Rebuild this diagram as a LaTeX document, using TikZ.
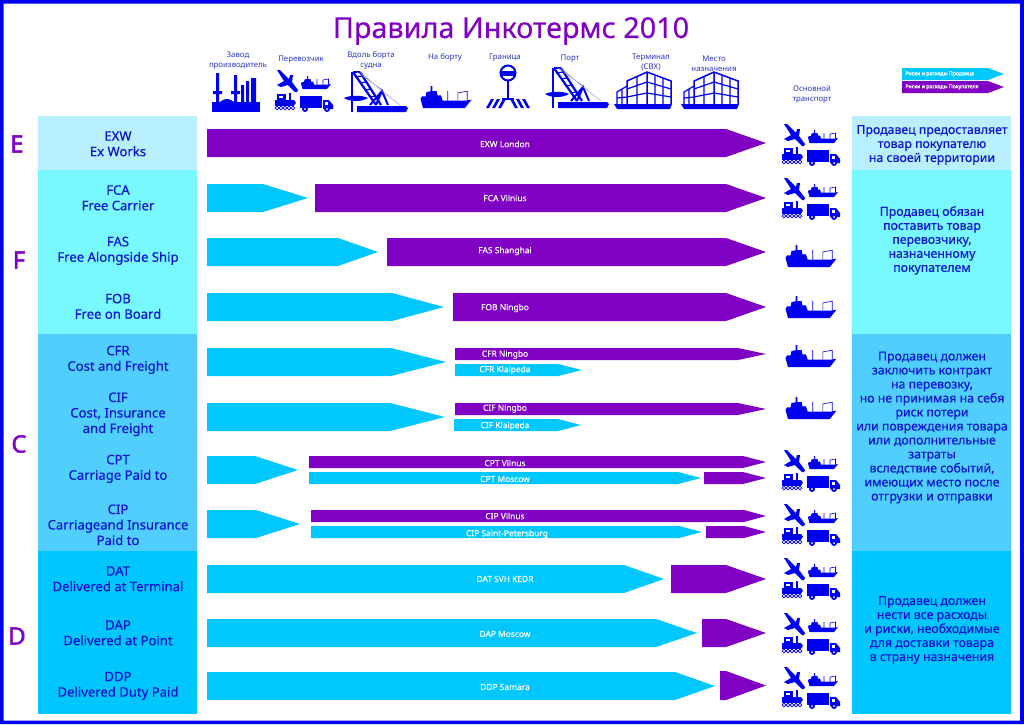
\documentclass[tikz,border=0pt]{standalone}
\usepackage{fontspec}
\setmainfont{Noto Sans}
\newfontfamily\semib[FakeBold=0.35]{Noto Sans}
\newfontfamily\strongf[FakeBold=1.6]{Noto Sans}
\definecolor{icoblue}{HTML}{0000F0}
\definecolor{txtblue}{HTML}{0A14CC}
\definecolor{hdrblue}{HTML}{2A35C0}
\definecolor{purp}{HTML}{8000C4}
\definecolor{cyanb}{HTML}{00C8FF}
\definecolor{bandE}{HTML}{B8F0FF}
\definecolor{bandF}{HTML}{78F8FF}
\definecolor{bandC}{HTML}{50CFFF}
\definecolor{bandD}{HTML}{00C6FF}
\newcommand{\sellerarrow}[6][cyanb]{\fill[#1] (#2,#5) -- (#4,#5) -- (#3,{(#5+#6)/2}) -- (#4,#6) -- (#2,#6) -- cycle;}
\newcommand{\buyerarrow}[5]{\sellerarrow[purp]{#1}{#2}{#3}{#4}{#5}}
\tikzset{
  x=0.5pt,y=-0.5pt,
  lefttext/.style={font=\fontsize{6.55}{7.75}\semib\selectfont,text=txtblue,align=center,inner sep=0pt},
  righttext/.style={font=\fontsize{6.15}{7}\semib\selectfont,text=txtblue,align=center,inner sep=0pt},
  hdr/.style={font=\fontsize{3.9}{5.2}\selectfont,text=hdrblue,align=center,inner sep=0pt},
  arrowlabel/.style={font=\fontsize{4.2}{5}\semib\selectfont,text=white,inner sep=0pt},
  legendlabel/.style={font=\fontsize{2.6}{3}\strongf\selectfont,text=white,inner sep=0pt,anchor=west},
  letter/.style={font=\fontsize{12}{14}\strongf\selectfont,text=purp,inner sep=0pt},
  planeicon/.pic={
    \fill[icoblue] (-26,-20) -- (-23,-20) -- (-14,-11) -- (-13,-15) -- (-10,-15) -- (-11,-8) -- (-5,0) -- (-6,2) -- (-8,2) -- (-15,-5) -- (-22,-3) -- (-26,-5) -- (-19,-9) -- cycle;},
  shipicon/.pic={
    \fill[icoblue] (-15,0.5) -- (-13.5,6) -- (11,6) -- (15,1) -- (12,1.5) -- (-2,1.5) -- (-3,-1.5) -- (-5,-1.5) -- (-5.5,-4) -- (-8,-4) -- (-8,-7) -- (-9,-7) -- (-9,-4) -- (-11.5,-3.5) -- (-12,-1) -- (-14,-1) -- cycle;
    \draw[icoblue,line width=.3pt] (1,2) -- (1,-4) (7,1.5) -- (7,-3) -- (12.5,-4) -- (12.5,1.5);},
  trainicon/.pic={
    \fill[icoblue] (-28,10) rectangle (-9,15.5);
    \fill[icoblue] (-9,10) -- (-7,12.8) -- (-9,15.5) -- cycle;
    \fill[icoblue] (-26,4) rectangle (-17,10);
    \fill[white] (-24,5.5) rectangle (-20,8);
    \fill[icoblue] (-14,3) rectangle (-12,10);
    \foreach \xx in {-26,-22,-18,-14,-10}{\draw[icoblue,line width=.4pt] (\xx,18) circle[radius=1.9];}},
  truckicon/.pic={
    \fill[icoblue] (-3,6) rectangle (19,18);
    \fill[icoblue] (20,10) -- (26,10) -- (30,15) -- (30,19) -- (20,19) -- cycle;
    \fill[white] (22,12) rectangle (25,15);
    \fill[icoblue] (2,19) circle[radius=3] (24,19) circle[radius=3];
    \fill[white] (2,19) circle[radius=1] (24,19) circle[radius=1];},
  transporticons/.pic={
    \pic at (0,0) {planeicon};
    \pic at (13,-7) {shipicon};
    \pic at (0,0) {trainicon};
    \pic at (0,0) {truckicon};},
  bigship/.pic={\pic[scale=1.7] at (0,0) {shipicon};},
  craneicon/.pic={
    \fill[icoblue] (5,35) -- (54,35) -- (56,37) -- (54,41) -- (5,41) -- cycle;
    \fill[icoblue] (-8,27) .. controls (-2,24) and (10,24) .. (16,27) .. controls (10,31) and (-2,31) .. (-8,27);
    \draw[icoblue,line width=1.1pt] (1,1) -- (24,34) (8,1) -- (29,34);
    \draw[icoblue,line width=.6pt] (3,6) -- (10,5) (8,12) -- (14,11) (13,19) -- (19,18) (18,26) -- (24,25);
    \draw[icoblue,line width=1pt] (0,1) -- (0,41) (1,1) -- (8,1);
    \draw[icoblue,line width=1pt] (24,34) -- (30,20) -- (36,34) (18,34) -- (30,20);
    \draw[hdrblue!55,line width=.2pt] (8,1) -- (30,20) (5,1) -- (29,18) (30,20) -- (48,34);
  },
  factoryicon/.pic={
    \fill[icoblue] (0,29) rectangle (48,39);
    \fill[icoblue] (4,0) rectangle (7,30) (22,2) rectangle (25,30);
    \fill[icoblue] (1,18) rectangle (10,21) (19,18) rectangle (28,21);
    \fill[icoblue] (29,12) rectangle (32,30) (34,8) rectangle (37,30) (39,5) rectangle (44,30);
    \fill[icoblue] (8,29) .. controls (14,24) and (18,26) .. (22,29) -- cycle;
  },
  bordericon/.pic={
    \draw[icoblue,line width=1pt] (22,8) circle[radius=7.5];
    \fill[icoblue] (15,5.5) rectangle (29,10.5);
    \draw[icoblue,line width=.7pt] (22,16) -- (22,34);
    \fill[icoblue] (16,33) rectangle (28,35);
    \foreach \xa in {0,6,12}{
      \fill[icoblue] (\xa+5,34) -- (\xa+8,34) -- (\xa+3,43) -- (\xa,43) -- cycle;
      \fill[icoblue] (39-\xa,34) -- (36-\xa,34) -- (41-\xa,43) -- (44-\xa,43) -- cycle;}
  },
  warehouseicon/.pic={
    \fill[icoblue] (0,32) -- (58,32) -- (56,37) -- (3,37) -- cycle;
    \draw[icoblue,line width=.75pt] (33,0) -- (57,9) -- (57,32) (33,0) -- (33,32) (33,0) -- (13,9) -- (13,32);
    \draw[icoblue,line width=.6pt] (13,17) -- (33,10) -- (57,17) (13,25) -- (33,21) -- (57,25) (23,5) -- (23,32) (41,3) -- (41,32) (49,6) -- (49,32);
    \draw[icoblue,line width=.6pt] (13,14) -- (3,20) -- (3,32) (3,26) -- (13,25) (8,17) -- (8,32);
  },
}
\begin{document}
\begin{tikzpicture}
\useasboundingbox (0,0) rectangle (1024,724);
\fill[white] (0,0) rectangle (1024,724);
\fill[icoblue,even odd rule] (0,0) rectangle (1024,724) (3.5,3.5) rectangle (1020,720.5);

\node[font=\fontsize{14.4}{16}\semib\selectfont,text=purp,inner sep=0pt] (title) at (511,31) {Правила Инкотермс 2010};

% left and right bands
\foreach \xl/\xr in {38/197,852/1011}{
  \fill[bandE] (\xl,116) rectangle (\xr,170);
  \fill[bandF] (\xl,170) rectangle (\xr,334);
  \fill[bandC] (\xl,334) rectangle (\xr,551);
  \fill[bandD] (\xl,551) rectangle (\xr,714);
}
\node[letter] (gE) at (17,144) {E};
\node[letter] (gF) at (19,260) {F};
\node[letter] (gC) at (19,444) {C};
\node[letter] (gD) at (17,636) {D};

\node[lefttext] (exw) at (118,143.8) {EXW\\Ex Works};
\node[lefttext] (fca) at (118,197.8) {FCA\\Free Carrier};
\node[lefttext] (fas) at (118,250.8) {FAS\\Free Alongside Ship};
\node[lefttext] (fob) at (118,306.3) {FOB\\Free on Board};
\node[lefttext] (cfr) at (118,359.8) {CFR\\Cost and Freight};
\node[lefttext] (cif) at (118,414.3) {CIF\\Cost, Insurance\\and Freight};
\node[lefttext] (cpt) at (118,468.8) {CPT\\Carriage Paid to};
\node[lefttext] (cip) at (118,524.8) {CIP\\Carriageand Insurance\\Paid to};
\node[lefttext] (dat) at (118,578.8) {DAT\\Delivered at Terminal};
\node[lefttext] (dap) at (118,632.8) {DAP\\Delivered at Point};
\node[lefttext] (ddp) at (118,685.8) {DDP\\Delivered Duty Paid};

\node[righttext] (rE) at (932,145) {Продавец предоставляет\\товар покупателю\\на своей территории};
\node[righttext] (rF) at (932,240.5) {Продавец обязан\\поставить товар\\перевозчику,\\назначенному\\покупателем};
\node[righttext] (rC) at (932,427.5) {Продавец должен\\заключить контракт\\на перевозку,\\но не принимая на себя\\риск потери\\или повреждения товара\\или дополнительные\\затраты\\вследствие событий,\\имеющих место после\\отгрузки и отправки};
\node[righttext] (rD) at (932,630) {Продавец должен\\нести все расходы\\и риски, необходимые\\для доставки товара\\в страну назначения};

% arrows
\buyerarrow{207}{766}{726}{129}{157}
\sellerarrow{207}{308}{263}{184}{212}
\buyerarrow{315}{766}{726}{184}{212}
\sellerarrow{207}{378}{338}{238}{266}
\buyerarrow{387}{766}{726}{238}{266}
\sellerarrow{207}{444}{392}{293}{321}
\buyerarrow{453}{766}{726}{293}{321}
\sellerarrow{207}{446}{391}{348}{376}
\buyerarrow{455}{766}{738}{348}{360}
\sellerarrow{455}{582}{558}{364}{376}
\sellerarrow{207}{445}{390}{403}{431}
\buyerarrow{455}{766}{738}{403}{415}
\sellerarrow{454}{581}{558}{419}{431}
\sellerarrow{207}{298}{255}{456}{484}
\buyerarrow{309}{766}{743}{456}{468}
\sellerarrow{309}{701}{678}{472}{484}
\buyerarrow{704}{766}{743}{472}{484}
\sellerarrow{207}{300}{256}{510}{538}
\buyerarrow{311}{766}{744}{510}{522}
\sellerarrow{311}{702}{679}{526}{538}
\buyerarrow{706}{766}{744}{526}{538}
\sellerarrow{207}{664}{624}{565}{593}
\buyerarrow{671}{766}{726}{565}{593}
\sellerarrow{207}{697}{656}{619}{647}
\buyerarrow{702}{766}{726}{619}{647}
\sellerarrow{207}{715}{675}{672}{700}
\buyerarrow{720}{766}{726}{671}{700}

% arrow labels
\node[arrowlabel] (l1) at (505,144) {EXW London};
\node[arrowlabel] (l2) at (505,198) {FCA Vilnius};
\node[arrowlabel] (l3) at (505,251) {FAS Shanghai};
\node[arrowlabel] (l4) at (505,308) {FOB Ningbo};
\node[arrowlabel] (l5) at (505,354.5) {CFR Ningbo};
\node[arrowlabel] (l6) at (505,370) {CFR Klaipeda};
\node[arrowlabel] (l7) at (505,408.5) {CIF Ningbo};
\node[arrowlabel] (l8) at (505,426) {CIF Klaipeda};
\node[arrowlabel] (l9) at (505,463) {CPT Vilnus};
\node[arrowlabel] (l10) at (505,479) {CPT Moscow};
\node[arrowlabel] (l11) at (505,516) {CIP Vilnus};
\node[arrowlabel] (l12) at (507,534) {CIP Saint-Petersburg};
\node[arrowlabel] (l13) at (505,579) {DAT SVH KEDR};
\node[arrowlabel] (l14) at (505,634) {DAP Moscow};
\node[arrowlabel] (l15) at (505,687) {DDP Samara};

% header labels
\node[hdr] (h1) at (238,60.5) {Завод\\производитель};
\node[hdr] (h2) at (301,60) {Перевозчик};
\node[hdr] (h3) at (371,60.5) {Вдоль борта\\судна};
\node[hdr] (h4) at (445,57) {На борту};
\node[hdr] (h5) at (505,58) {Граница};
\node[hdr] (h6) at (570,59) {Порт};
\node[hdr] (h7) at (651,62.5) {Терминал\\(СВХ)};
\node[hdr] (h8) at (714,63.5) {Место\\назначения};
\node[hdr] (h9) at (812,94.5) {Основной\\транспорт};

% header icons
\pic at (212,73) {factoryicon};
\pic at (303,90) {transporticons};
\pic at (352,71) {craneicon};
\pic at (446,98) {bigship};
\pic at (486,65) {bordericon};
\pic at (553,67) {craneicon};
\pic at (614,72) {warehouseicon};
\pic at (681,72) {warehouseicon};

% transport column
\foreach \yy in {144,198,470,524,578,633,687}{\pic at (810,\yy) {transporticons};}
\foreach \yy in {257,308,357,409}{\pic at (811,\yy) {bigship};}

% legend
\sellerarrow{902}{1004}{988}{68}{80}
\buyerarrow{902}{1004}{988}{81}{93}
\node[legendlabel] (leg1) at (905,74) {Риски и расходы Продавца};
\node[legendlabel] (leg2) at (905,87) {Риски и расходы Покупателя};
\end{tikzpicture}
\end{document}
